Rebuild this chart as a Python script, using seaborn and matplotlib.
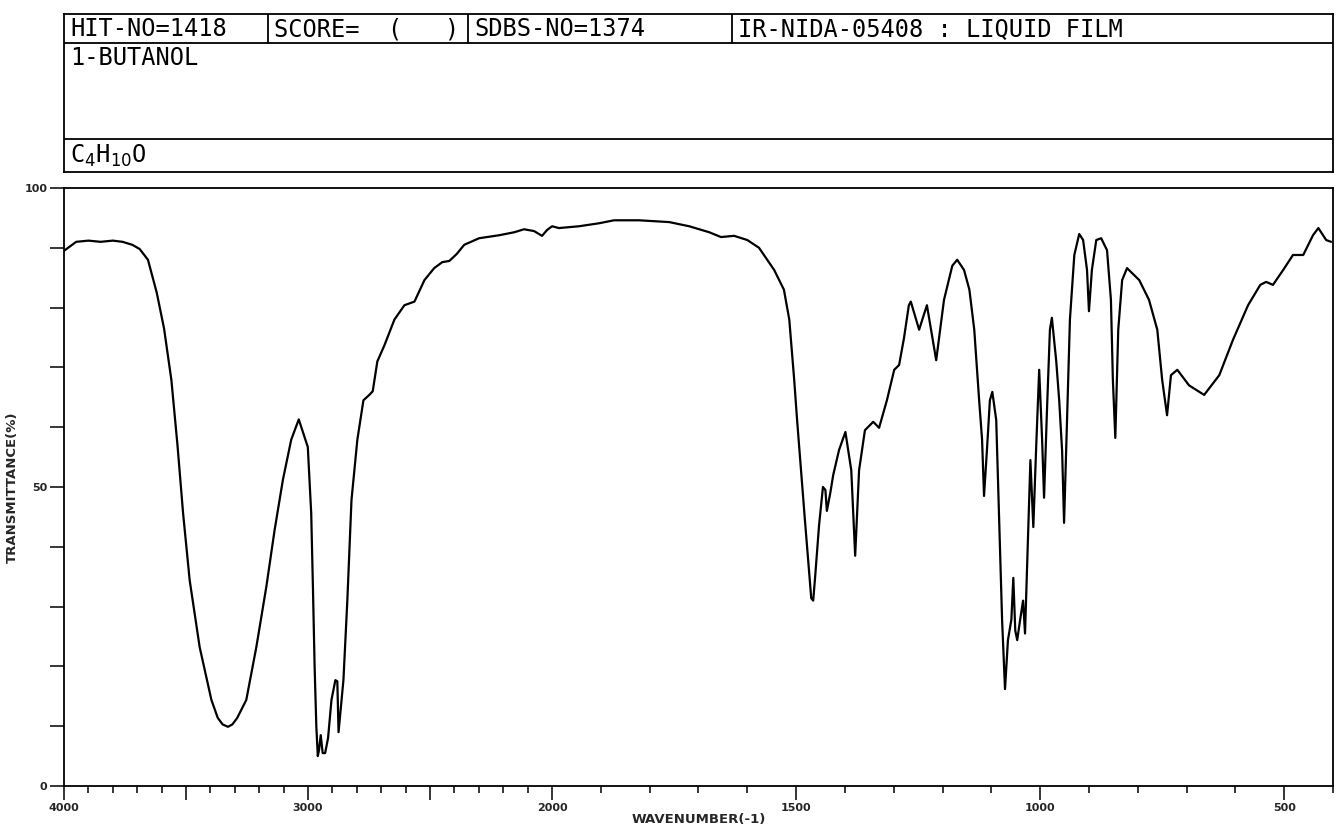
import numpy as np
import matplotlib
matplotlib.use("Agg")
import matplotlib.pyplot as plt
import seaborn as sns

# spectrum (wavenumber, transmittance %)
wavenumber = [4000, 3950, 3900, 3850, 3800, 3760, 3720, 3690, 3656, 3620, 3590, 3560,
              3535, 3512, 3485, 3444, 3396, 3370, 3350, 3328, 3310, 3290, 3253, 3212,
              3171, 3137, 3103, 3069, 3038, 3001, 2987, 2980, 2973, 2966,
              2960, 2955, 2948, 2940, 2930, 2918, 2904, 2888, 2880, 2875, 2868,
              2855, 2839, 2822, 2798, 2773, 2749, 2735, 2716, 2687, 2646, 2605, 2564,
              2523, 2483, 2450, 2421, 2390, 2360, 2299, 2217, 2155, 2115, 2074, 2041,
              2020, 2000, 1986, 1945, 1904, 1873, 1822, 1760, 1719, 1678, 1654, 1627,
              1600, 1576, 1545, 1525, 1514, 1504, 1498, 1482, 1469, 1465, 1461, 1453,
              1445, 1440, 1437, 1430, 1424, 1412, 1399, 1387, 1379, 1371, 1359, 1342,
              1330, 1314, 1299, 1289, 1279, 1269, 1265, 1248, 1232, 1213, 1197, 1180,
              1170, 1156, 1145, 1135, 1125, 1119, 1115, 1109, 1103, 1098, 1090, 1084,
              1078, 1072, 1066, 1059, 1055, 1051, 1047, 1041, 1035, 1031, 1025, 1020,
              1014, 1008, 1002, 996, 992, 986, 980, 976, 967, 961, 955, 951,
              945, 939, 930, 920, 912, 904, 900, 894, 885, 875, 863, 855,
              851, 846, 840, 832, 822, 797, 777, 760, 750, 740, 732, 719,
              695, 664, 633, 605, 574, 549, 537, 523, 502, 482, 461, 441,
              430, 414, 404]
transmittance = [89.5, 91.0, 91.2, 91.0, 91.2, 91.0, 90.5, 89.8, 88.0, 82.5, 76.5, 67.9,
                 57.0, 45.6, 34.4, 23.2, 14.4, 11.4, 10.3, 9.9, 10.3, 11.4, 14.4, 23.2,
                 33.3, 42.8, 51.2, 57.9, 61.3, 56.7, 45.6, 33.3, 19.9, 9.9,
                 5.0, 6.0, 8.5, 5.5, 5.5, 8.0, 14.4, 17.7, 17.5, 9.0, 12.0,
                 17.7, 31.0, 47.8, 57.9, 64.5, 65.4, 66.0, 71.0, 73.7, 78.0, 80.4, 81.0,
                 84.6, 86.6, 87.6, 87.8, 89.0, 90.5, 91.6, 92.1, 92.6, 93.1, 92.8, 92.0,
                 93.0, 93.6, 93.3, 93.6, 94.1, 94.6, 94.6, 94.3, 93.6, 92.6, 91.8, 92.0,
                 91.3, 90.0, 86.3, 83.0, 78.0, 68.0, 61.2, 44.5, 31.4, 31.0, 35.0, 43.6,
                 50.0, 49.5, 46.0, 49.0, 52.0, 56.2, 59.2, 52.8, 38.5, 52.8, 59.5, 60.9,
                 59.9, 64.5, 69.6, 70.4, 74.9, 80.4, 81.0, 76.3, 80.4, 71.2, 81.3, 87.0,
                 88.0, 86.3, 83.0, 76.3, 64.5, 57.9, 48.5, 56.2, 64.5, 65.9, 61.2, 44.5,
                 27.8, 16.2, 24.4, 27.8, 34.8, 26.0, 24.4, 27.8, 31.0, 25.5, 41.0, 54.5,
                 43.3, 57.0, 69.6, 57.9, 48.2, 62.9, 76.3, 78.3, 71.0, 64.5, 56.0, 44.0,
                 61.2, 78.0, 88.8, 92.3, 91.3, 86.3, 79.4, 86.3, 91.3, 91.6, 89.6, 81.3,
                 67.9, 58.2, 76.3, 84.6, 86.6, 84.6, 81.3, 76.3, 67.9, 62.0, 68.7, 69.6,
                 67.0, 65.4, 68.7, 74.6, 80.4, 83.8, 84.3, 83.8, 86.3, 88.8, 88.8, 92.1,
                 93.3, 91.3, 91.0]

major_ticks = [4000, 3500, 3000, 2500, 2000, 1500, 1000, 500]
major_labels = ["4000", "", "3000", "", "2000", "1500", "1000", "500"]
y_ticks = [0, 50, 100]
y_labels = ["0", "50", "100"]

header_row1 = ["HIT-NO=1418", "SCORE=  (   )", "SDBS-NO=1374", "IR-NIDA-05408 : LIQUID FILM"]
compound = "1-BUTANOL"
formula = r"C$_4$H$_{10}$O"

sns.set_style("ticks")
plt.rcParams['font.family'] = ['DejaVu Sans', 'DejaVu Sans Mono']

W, H = 1337, 827
fig = plt.figure(figsize=(W / 100, H / 100), dpi=100)

# spectrum axes
left, right, top, bottom = 64, 1333, 188, 786
ax = fig.add_axes([left / W, (H - bottom) / H, (right - left) / W, (bottom - top) / H])


# above 2000 cm-1 the chart is at half scale
def fwd(w):
    w = np.asarray(w, dtype=float)
    return np.where(w <= 2000, w, 2000 + (w - 2000) / 2)


def inv(u):
    u = np.asarray(u, dtype=float)
    return np.where(u <= 2000, u, 2000 + 2 * (u - 2000))


ax.set_xscale("function", functions=(fwd, inv))
sns.lineplot(x=wavenumber, y=transmittance, ax=ax, color="black", linewidth=1.6,
             estimator=None, sort=False)
ax.set_xlim(4000, 400)
ax.set_ylim(0, 100)

ax.set_xticks(major_ticks)
ax.set_xticklabels(major_labels)
ax.set_xticks(np.arange(4000, 399, -100), minor=True)
ax.set_yticks(y_ticks)
ax.set_yticklabels(y_labels)
ax.set_yticks(np.arange(0, 101, 10), minor=True)

ax.tick_params(axis="x", which="major", length=10, width=1.3, direction="out", labelsize=8, pad=2)
ax.tick_params(axis="x", which="minor", length=5, width=1.3, direction="out")
ax.tick_params(axis="y", which="both", length=10, width=1.3, direction="out", labelsize=8, pad=2)
for lab in ax.get_xticklabels() + ax.get_yticklabels():
    lab.set_fontweight("bold")

for s in ax.spines.values():
    s.set_visible(True)
    s.set_linewidth(1.3)
    s.set_color("black")

ax.set_xlabel("WAVENUMBER(-1)", fontsize=9.5, fontweight="bold", labelpad=0)
ax.set_ylabel("TRANSMITTANCE(%)", fontsize=9.5, fontweight="bold", labelpad=4)

# header box
htop, hbot = 14, 172
hx = fig.add_axes([left / W, (H - hbot) / H, (right - left) / W, (hbot - htop) / H])
hx.set_xlim(0, right - left)
hx.set_ylim(hbot - htop, 0)
hx.set_xticks([])
hx.set_yticks([])
for s in hx.spines.values():
    s.set_linewidth(1.3)
    s.set_color("black")

row_lines = [43 - htop, 139 - htop]
for yy in row_lines:
    hx.axhline(yy, color="black", linewidth=1.3)
col_edges = [0, 268 - left, 468 - left, 732 - left]
for xx in col_edges[1:]:
    hx.plot([xx, xx], [0, row_lines[0]], color="black", linewidth=1.3)

mono = dict(family="DejaVu Sans Mono", fontsize=17, va="center", ha="left", color="black")
for xx, txt in zip(col_edges, header_row1):
    hx.text(xx + 6, (row_lines[0]) / 2 + 1, txt, **mono)
hx.text(6, 58 - htop, compound, **mono)
hx.text(6, 156 - htop, formula, **mono)

fig.savefig("out.png", dpi=100)
